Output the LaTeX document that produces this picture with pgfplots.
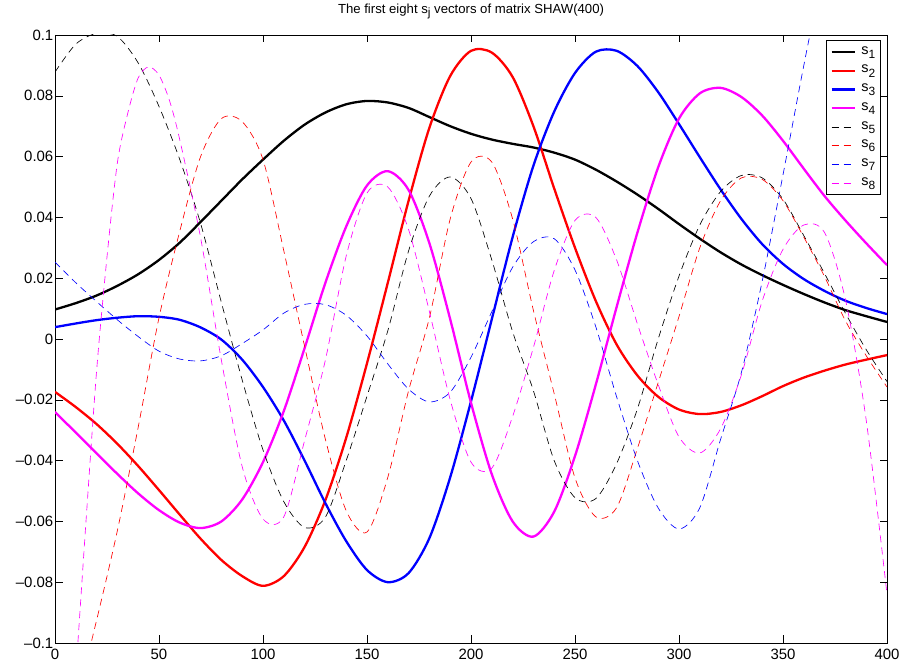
\documentclass[border=0pt]{standalone}
\usepackage{fontspec}
\setmainfont{Liberation Sans}
\usepackage{pgfplots}
\pgfplotsset{compat=1.18}
\definecolor{mlred}{rgb}{1,0,0}
\definecolor{mlblue}{rgb}{0,0,1}
\definecolor{mlmag}{rgb}{1,0,1}
\newcommand{\sj}[1]{s\raisebox{-0.55ex}{\fontsize{12}{13}\selectfont #1}}
\begin{document}
\begin{tikzpicture}
\begin{axis}[
    scale only axis, width=832bp, height=608bp,
    xmin=0, xmax=400, ymin=-0.1, ymax=0.1,
    xtick={0,50,...,400},
    ytick={-0.1,-0.08,-0.06,-0.04,-0.02,0,0.02,0.04,0.06,0.08,0.1},
    yticklabels={--0.1,--0.08,--0.06,--0.04,--0.02,0,0.02,0.04,0.06,0.08,0.1},
    /pgf/number format/assume math mode=true,
    tick label style={font=\fontsize{15}{17}\selectfont},
    yticklabel style={inner xsep=1.5bp},
    xticklabel style={inner ysep=5.5bp},
    tick align=inside, major tick length=7.5bp,
    tick style={black, line width=0.5bp},
    axis line style={line width=0.8bp},
    title={The first eight \sj{j} vectors of matrix SHAW(400)},
    title style={font=\fontsize{13.2}{15}\selectfont, at={(0.5,1)}, anchor=base, yshift=16bp},
    legend style={at={(1,1)}, anchor=north east, xshift=-6bp, yshift=-5bp,
        draw=black, line width=0.6bp, inner xsep=4bp, inner ysep=4bp,
        column sep=4bp, row sep=3.2bp,
        nodes={inner sep=1.5bp, text height=8.5bp, text depth=4bp},
        font=\fontsize{14.5}{16}\selectfont},
    legend cell align=left,
    legend image code/.code={\draw[#1] (0bp,0bp) -- (23bp,0bp);},
    every axis plot/.append style={smooth},
]
% s1..s4 solid
\addplot[black, line width=2.3bp] coordinates {
 (0,0.0097) (10,0.0118) (20,0.0143) (30,0.0175) (40,0.0213) (50,0.0260)
 (60,0.0317) (70,0.0385) (80,0.0455) (90,0.0525) (100,0.0590) (110,0.0652)
 (120,0.0705) (130,0.0745) (140,0.0772) (150,0.0783) (160,0.0778) (170,0.0760)
 (180,0.0730) (190,0.0700) (200,0.0675) (210,0.0656) (220,0.0642) (230,0.0630)
 (240,0.0613) (250,0.0590) (260,0.0557) (270,0.0518) (280,0.0475) (290,0.0428)
 (300,0.0378) (310,0.0330) (320,0.0285) (330,0.0245) (340,0.0210) (350,0.0178)
 (360,0.0148) (370,0.0120) (380,0.0095) (390,0.0075) (400,0.0056)};
\addlegendentry{\sj{1}}
\addplot[mlred, line width=2.3bp] coordinates {
 (0,-0.0174) (10,-0.0224) (20,-0.0280) (30,-0.0345) (40,-0.0418) (50,-0.0497)
 (60,-0.0578) (70,-0.0657) (80,-0.0727) (90,-0.0780) (100,-0.0812) (110,-0.0780)
 (120,-0.0684) (130,-0.0530) (140,-0.0325) (150,-0.0080) (160,0.0185) (170,0.0455)
 (180,0.0695) (190,0.0865) (200,0.0948) (210,0.0942) (220,0.0862) (230,0.0700)
 (240,0.0495) (250,0.0300) (260,0.0125) (270,-0.0018) (280,-0.0120) (290,-0.0190)
 (300,-0.0232) (310,-0.0247) (320,-0.0240) (330,-0.0218) (340,-0.0188) (350,-0.0155)
 (360,-0.0127) (370,-0.0104) (380,-0.0084) (390,-0.0068) (400,-0.0053)};
\addlegendentry{\sj{2}}
\addplot[mlblue, line width=2.3bp] coordinates {
 (0,0.0039) (10,0.0051) (20,0.0062) (30,0.0070) (40,0.0075) (50,0.0073)
 (60,0.0063) (70,0.0038) (80,-0.0002) (90,-0.0068) (100,-0.0158) (110,-0.0268)
 (120,-0.0400) (130,-0.0540) (140,-0.0665) (150,-0.0760) (160,-0.0800) (170,-0.0770)
 (180,-0.0655) (190,-0.0455) (200,-0.0205) (210,0.0065) (220,0.0335) (230,0.0570)
 (240,0.0748) (250,0.0875) (260,0.0945) (270,0.0948) (280,0.0898) (290,0.0812)
 (300,0.0707) (310,0.0598) (320,0.0492) (330,0.0395) (340,0.0312) (350,0.0247)
 (360,0.0197) (370,0.0158) (380,0.0126) (390,0.0102) (400,0.0082)};
\addlegendentry{\sj{3}}
\addplot[mlmag, line width=2.3bp] coordinates {
 (0,-0.0240) (10,-0.0308) (20,-0.0376) (30,-0.0444) (40,-0.0508) (50,-0.0563)
 (60,-0.0604) (70,-0.0622) (80,-0.0600) (90,-0.0528) (100,-0.0405) (110,-0.0237)
 (120,-0.0030) (130,0.0185) (140,0.0370) (150,0.0505) (160,0.0552) (170,0.0490)
 (180,0.0315) (190,0.0065) (200,-0.0210) (210,-0.0445) (220,-0.0600) (230,-0.0650)
 (240,-0.0568) (250,-0.0385) (260,-0.0150) (270,0.0105) (280,0.0350) (290,0.0565)
 (300,0.0725) (310,0.0808) (320,0.0826) (330,0.0796) (340,0.0735) (350,0.0652)
 (360,0.0560) (370,0.0470) (380,0.0390) (390,0.0315) (400,0.0243)};
\addlegendentry{\sj{4}}
% s5..s8 dashed
\addplot[black, line width=0.65bp, dash pattern=on 7bp off 5bp] coordinates {
 (0,0.0878) (10,0.0970) (20,0.1005) (30,0.0995) (40,0.0908) (50,0.0765)
 (60,0.0590) (70,0.0380) (80,0.0120) (90,-0.0135) (100,-0.0365) (110,-0.0535)
 (120,-0.0620) (130,-0.0586) (140,-0.0400) (150,-0.0188) (160,0.0027) (170,0.0290)
 (180,0.0470) (190,0.0533) (200,0.0462) (210,0.0260) (220,0.0024) (230,-0.0170)
 (240,-0.0400) (250,-0.0522) (260,-0.0525) (270,-0.0410) (280,-0.0230) (290,0.0000)
 (300,0.0207) (310,0.0375) (320,0.0485) (330,0.0538) (340,0.0530) (350,0.0460)
 (360,0.0340) (370,0.0215) (380,0.0085) (390,-0.0035) (400,-0.0140)};
\addlegendentry{\sj{5}}
\addplot[mlred, line width=0.65bp, dash pattern=on 7bp off 5bp] coordinates {
 (0,-0.145) (10,-0.120) (20,-0.0925) (30,-0.0630) (40,-0.0290) (50,0.0070)
 (60,0.0355) (70,0.0600) (80,0.0725) (90,0.0715) (100,0.0590) (110,0.0290)
 (120,-0.0024) (130,-0.0330) (140,-0.0565) (150,-0.0635) (160,-0.0455) (170,-0.0170)
 (180,0.0070) (190,0.0395) (200,0.0582) (210,0.0582) (220,0.0395) (230,0.0094)
 (240,-0.0180) (250,-0.0457) (260,-0.0585) (270,-0.0555) (280,-0.0360) (290,-0.0143)
 (300,0.0074) (310,0.0300) (320,0.0455) (330,0.0530) (340,0.0525) (350,0.0455)
 (360,0.0335) (370,0.0205) (380,0.0060) (390,-0.0055) (400,-0.0158)};
\addlegendentry{\sj{6}}
\addplot[mlblue, line width=0.65bp, dash pattern=on 7bp off 5bp] coordinates {
 (0,0.0253) (10,0.0185) (20,0.0123) (30,0.0063) (40,0.0008) (50,-0.0040)
 (60,-0.0066) (70,-0.0072) (80,-0.0055) (90,-0.0015) (100,0.0030) (110,0.0085)
 (120,0.0114) (130,0.0113) (140,0.0078) (150,0.0010) (160,-0.0082) (170,-0.0165)
 (180,-0.0207) (190,-0.0175) (200,-0.0060) (210,0.0090) (220,0.0236) (230,0.0320)
 (240,0.0330) (250,0.0227) (260,0.0040) (270,-0.0190) (280,-0.0400) (290,-0.0556)
 (300,-0.0625) (310,-0.0555) (320,-0.0330) (330,-0.0110) (340,0.0190) (350,0.0540)
 (360,0.0900) (370,0.124) (380,0.158) (390,0.190) (400,0.220)};
\addlegendentry{\sj{7}}
\addplot[mlmag, line width=0.65bp, dash pattern=on 7bp off 5bp] coordinates {
 (0,-0.210) (5,-0.158) (10,-0.110) (15,-0.059) (20,-0.0105) (25,0.027)
 (30,0.058) (35,0.0743) (40,0.0859) (45,0.0895) (50,0.0868) (55,0.0785)
 (60,0.0655) (70,0.0333) (80,-0.0070) (90,-0.0420) (100,-0.0592) (110,-0.0585)
 (120,-0.0334) (130,-0.0069) (140,0.0273) (150,0.0480) (160,0.0500) (170,0.0360)
 (180,0.0090) (190,-0.0200) (200,-0.0405) (210,-0.0425) (220,-0.0255) (230,-0.0028)
 (240,0.0225) (250,0.0390) (260,0.0400) (270,0.0260) (280,0.0050) (290,-0.0150)
 (300,-0.0322) (310,-0.0375) (320,-0.0295) (330,-0.0118) (340,0.0125) (350,0.0295)
 (360,0.0375) (370,0.0350) (380,0.0130) (390,-0.0267) (400,-0.0840)};
\addlegendentry{\sj{8}}
\coordinate (bl) at (rel axis cs:0,0);
\coordinate (tr) at (rel axis cs:1,1);
\end{axis}
\pgfresetboundingbox
\path ([xshift=-55bp,yshift=-18bp]bl) rectangle ([xshift=14bp,yshift=35bp]tr);
\end{tikzpicture}
\end{document}
